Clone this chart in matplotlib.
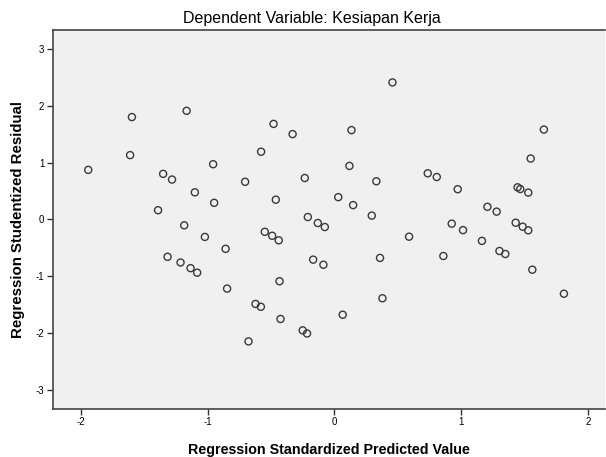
import matplotlib
matplotlib.use("Agg")
import matplotlib.pyplot as plt

# standardized predicted values (x) and studentized residuals (y)
pred = [-1.94, -1.596, -1.61, -1.165, -1.35, -1.28, -1.10, -0.956, -0.948, -1.39,
        -0.704, -0.578, -0.48, -0.33, -0.462, -0.234, -0.21, 0.03, 0.457, 0.134,
        0.118, 0.33, 0.147, 0.294, 0.735, 0.806, 0.971, 1.65, 1.546, 1.443,
        1.464, 1.527, 1.205, 1.278, -1.184, -1.021, -0.858, -1.315, -1.213, -1.134,
        -1.082, -0.846, -0.549, -0.491, -0.439, -0.131, -0.076, -0.168, -0.087, -0.433,
        -0.622, -0.58, -0.425, -0.25, -0.216, -0.677, 0.588, 0.359, 0.378, 0.065,
        0.924, 1.013, 1.162, 0.858, 1.30, 1.346, 1.428, 1.483, 1.527, 1.559, 1.808]
resid = [0.87, 1.80, 1.13, 1.91, 0.80, 0.70, 0.475, 0.97, 0.29, 0.16,
         0.66, 1.19, 1.68, 1.50, 0.345, 0.727, 0.04, 0.39, 2.41, 1.57,
         0.94, 0.67, 0.25, 0.065, 0.81, 0.745, 0.53, 1.58, 1.07, 0.563,
         0.533, 0.47, 0.22, 0.135, -0.106, -0.31, -0.52, -0.66, -0.76, -0.86,
         -0.94, -1.22, -0.22, -0.29, -0.37, -0.065, -0.136, -0.71, -0.80, -1.09,
         -1.49, -1.54, -1.755, -1.955, -2.01, -2.15, -0.306, -0.68, -1.39, -1.68,
         -0.077, -0.19, -0.38, -0.646, -0.558, -0.611, -0.06, -0.13, -0.194, -0.887, -1.31]

x_ticks = [-2, -1, 0, 1, 2]
y_ticks = [-3, -2, -1, 0, 1, 2, 3]

plt.rcParams['font.family'] = ['Liberation Sans', 'DejaVu Sans']
plt.rcParams['axes.unicode_minus'] = False

fig = plt.figure(figsize=(6.06, 4.57), dpi=100)
ax = fig.add_axes([0.087, 0.105, 0.911, 0.829])
ax.set_facecolor('#f0f0f0')

ax.scatter(pred, resid, s=26, facecolors='none', edgecolors='#3a3a3a', linewidths=1.0)

ax.set_xlim(-2.22, 2.13)
ax.set_ylim(-3.34, 3.33)
ax.set_xticks(x_ticks)
ax.set_yticks(y_ticks)
ax.tick_params(labelsize=7, length=4, width=1, color='#333333', pad=2)

for side in ['left', 'bottom', 'top']:
    ax.spines[side].set_color('#444444')
    ax.spines[side].set_linewidth(1.2)
ax.spines['right'].set_visible(False)

ax.set_title('Dependent Variable: Kesiapan Kerja', fontsize=11.5, pad=5, x=0.47)
ax.set_xlabel('Regression Standardized Predicted Value', fontsize=10.3, fontweight='bold', labelpad=11)
ax.set_ylabel('Regression Studentized Residual', fontsize=10.8, fontweight='bold', labelpad=8)

fig.savefig('out.png', dpi=100, facecolor='white')
